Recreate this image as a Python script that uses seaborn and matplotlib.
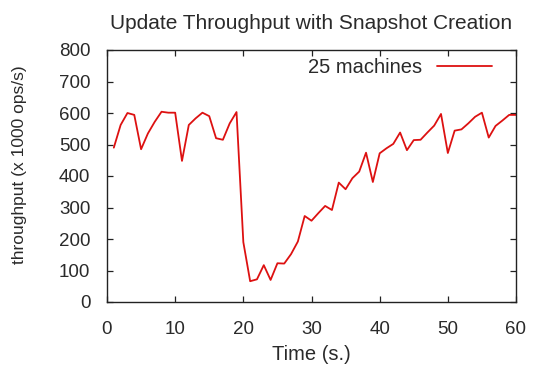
import numpy as np
import pandas as pd
import matplotlib
matplotlib.use("Agg")
import matplotlib.pyplot as plt
import seaborn as sns

# Data
time_s = list(range(1, 61))
throughput = [
    490, 562, 600, 594, 485, 535, 572, 604, 601, 601,
    448, 562, 583, 601, 590, 520, 515, 567, 603, 190,
    66, 72, 117, 70, 123, 122, 152, 192, 273, 258,
    282, 305, 292, 379, 358, 393, 414, 474, 381, 472,
    488, 502, 538, 482, 514, 515, 538, 560, 597, 473,
    544, 548, 567, 588, 601, 522, 559, 576, 594, 594,
]
series_label = "25 machines"
x_ticks = [0, 10, 20, 30, 40, 50, 60]
y_ticks = [0, 100, 200, 300, 400, 500, 600, 700, 800]

sns.set_theme(style="ticks")
plt.rcParams['font.family'] = ['Liberation Sans', 'DejaVu Sans']

df = pd.DataFrame({"Time (s.)": time_s, "throughput": throughput, "series": series_label})

fig = plt.figure(figsize=(5.33, 3.74), dpi=100)
ax = fig.add_axes([107/533, 1-302/374, (516-107)/533, (302-50)/374])

sns.lineplot(data=df, x="Time (s.)", y="throughput", hue="series",
             palette=["#dd1111"], linewidth=1.3, ax=ax)

ax.set_xlim(0, 60)
ax.set_ylim(0, 800)
ax.set_xticks(x_ticks)
ax.set_yticks(y_ticks)

text_color = "#2a2a2a"
for s in ax.spines.values():
    s.set_visible(True)
    s.set_color("#222222")
    s.set_linewidth(1.0)

ax.tick_params(axis="both", which="both", direction="in", length=4, width=0.9,
               top=True, right=True, colors="#222222", labelsize=13.5,
               labelcolor=text_color)
ax.tick_params(axis="x", pad=14)
ax.tick_params(axis="y", pad=12)

ax.set_xlabel("Time (s.)", fontsize=14.5, color=text_color, labelpad=5)
ax.set_ylabel("throughput (x 1000 ops/s)", fontsize=12.5, color=text_color)
ax.yaxis.set_label_coords(-0.195, 0.545)
ax.set_title("Update Throughput with Snapshot Creation", fontsize=15,
             color=text_color, pad=15)

leg = ax.legend(loc="upper right", frameon=False, markerfirst=False,
                fontsize=14.5, handlelength=2.7, handletextpad=0.75,
                borderaxespad=0.0, bbox_to_anchor=(0.96, 1.0))
for t in leg.get_texts():
    t.set_color(text_color)

fig.savefig("out.png", dpi=100)
